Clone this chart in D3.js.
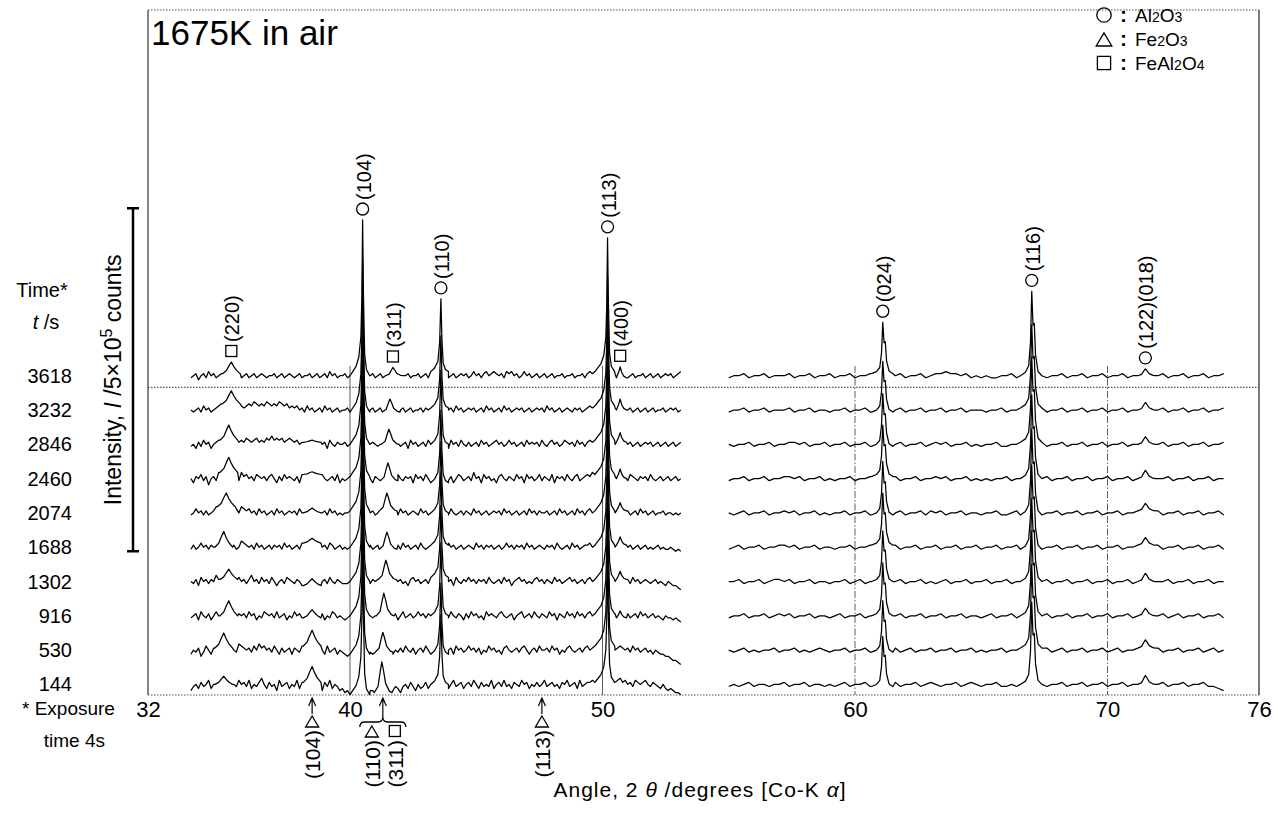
<!DOCTYPE html>
<meta charset="utf-8">
<style>
body { margin: 0; background: #fff; }
svg { font-family: "Liberation Sans", Arial, sans-serif; }
.trace { fill: none; stroke: #000; stroke-width: 1.25; stroke-linejoin: round; }
.sym { fill: none; stroke: #000; stroke-width: 1.3; }
.frame-dot { stroke: #555; stroke-width: 1.2; stroke-dasharray: 1.5,1.5; }
</style>
<body>
<script src="https://d3js.org/d3.v7.min.js"></script>
<script>

var width = 1278,
    height = 817;

// exposure time of each pattern (s), bottom pattern first
var times = [144, 530, 916, 1302, 1688, 2074, 2460, 2846, 3232, 3618];
var traceStep = 50;   // offset between stacked patterns (10^3 counts)
var bgUnit = 3;       // one background character = 3x10^3 counts

// background of each pattern, one base-36 char per step
// left part 33.7..53.1 deg (0.1 deg), right part 55.0..74.6 deg (0.2 deg)
var leftBg = [
  "79a8b9ac8a 9bac9b8a9c ab9c8a9bda 8b9a7c9ab8 a9c8b9a7b9 8a7b9c8a97 8675899a9b 8776878a98 79869a8b97 a89b8ac9ab 9b8ac9ab8a b9ca8b9a9c 8ab9c9a8ba 9cab8a9b9a c9ab9a8bac 9ab8c9abbc bcbcdcbabc dbcab9cbab ca9ba98a87 87665",
  "8a9b79ca8b 9cab8bca9d cbab9cadbc ab9ca8b9ab 8ba9c8ab9a 9ba8c9ab8a 9878a9b9ac a989a9ab9a 8a9b9ca9b8 ab9ca8b9ca 9bab8cab9a cab9b8a9ca b9a8bca9ab 9bca8ab9ca ab9cab8a9b ca9ab9bcab cbcbdcbcab cbab9cab9a b9a8a98877 65543",
  "9ab8ca9b8a cab9dbca9b ab9cab8a9c bab9c9ab8a 9cab9a8bca 9ab8a9cb9a 989a8a9bab 9a9ab8a9ba 9b8ac9ab9a cab9ba8b9c ab9ca9ba8b 9cab9a8cab a9bca9ab8a bc9ab9ca9b a9cab8ba9c ab9cab9bca bcdcbcbab9 cbab9ab9ca b9ab9a98a9 98987",
  "a9b8cab9ba dbcab9ab9c ab9bdab9ca b9ca8ab9cb a9ba8cab9a b9ab9ca9ba 999aa9ab9a a9bab9a9ab 9cab9a8bca b9ab9cab9a 9bab8ca9ba cab9bab9ca 9ab9cab8ab cab9a9bcab 9ba9cab9ab cab9ab9bca bcbdbcabab dcab9cab9a ba9ab9a98a 98876",
  "9b9acab9ba cbab9cab9a dcbab9cab9 ab9bab9cab 9ab9caba9b a9ab9cb9ab 9a9aab9ab9 ab9ab9aba9 bab9cab9ab 9ca9ab9bab a9cab9ab9a ba9cab9bab 9ab9acab9b ab9cab9aba 9bab9ca9ab 9cab9abbca bcbcbab9ab cbcab9ab9a b9a9ab9a99 a9898",
  "9acab9b9ab dcab9ab9ca dcbcab9cab 9ab9cab9ab ab9cab9aba 9bab9cab9a 9aab9ab9ab 9ab9aba9ab ab9cab9aba 9cab9ab9ab ab9ca9ab9b a9cab9ab9a bab9cab9ab 9ab9cab9ba ab9ab9cab9 ab9cab9bca bcbab9abab cbab9ab9ca b9ab9aab9a a9a9a",
  "a8bac9b7ab 9dcab8bca9 dbcab9cbab 9bca8b9cab a9b8cab9ba 8bca9ab9c8 a9ab8a9bab 9a8ba9ab9a b8ca9bab8c ab9ca8bab9 ca9b8acb9a b9dab8cab9 a8bca9ba9c ab8cab9ac9 ba9c8bab9c a9bc9abcbd cbcdbab8ba cab9cba9ba b9ca9ab9ab 9ab9a",
  "9a8b9cab8a bcdcab9cab cbdcbcdbcb dcecdcdbcd cbcab9bcab 9bab8ca9ba ab9ab9abab 9aba9ab9ab cab9ab8cab 9ab9cab9ab ab8cab9ca9 b9ab9cab9a bcab9acab9 ab9cabab9c a9bcab9acb ab9cab9bcb cbcbcab9ab cbcab9ab9a bab9ab9ab9 ab9ab",
  "a9ab9cab9a bcddcbcbab cbcdcedcdc edcdcedcdb cbcab9cab9 ab9cab9ab9 aab9ab9aab 9ab9ab9aba b9cab9ab9a ab9bab9cab a9ab9cab9a bab9ab9cab 9ab9cab9ab ab9ab9abab 9cab9ab9ab a9bab9abcb cbcbab9aba dcbab9ab9a b9ab9aab9a bab9a",
  "9ab8ab9cab 9abab9acab 9ab9ab9aba 9aab9ab9ab a9ab9aab9a b9ab9cab9a ab9aab9ab9 aab9ab9aba 9aab9ab9aa b9ab9cab9a ab9ab9abab 9acab9bcab cbab9cbcab 9acab9ab9a b9ab9aab9a ab9aab9bcb cbcbab9ab9 cab9ab9aab 9ab9ab9aba b9abc"
];
var rightBg = [
  "9a9ab9aa9a ab9aab9aa9 a9ab9aab9a a9ab9aab9a ba9aab9aba 9aab99a9ab aab9aab9aa b9aab9aab9 aab9aab9aa b9aab9987",
  "a9ab9a9aab 9aab9a9aba 9aab9aab9a 9aab9ab9aa b9aab9aab9 a9aab9aaba 9aab9ab9aa b9aab9ab9a ab9aab9aab 9aab9ab9a",
  "9aab9aab9a bab9aab9aa 9ab9aab9ab a9aab9aab9 aab9aab9aa 9ab9aab9ab 9aab9aab9a ab9aab9aab 9ab9aab9ab 9aab9aab9",
  "aab9aab9ab bab9aab9aa 9aab9ab9aa b9aab9aab9 a9ab9aab9a ab9aab9aab 9aab9aab9a ab9aab9aab 9aab9aab9a ab9aab9aa",
  "9ab9aab9aa bbab9aab9a a9aab9aab9 9aab9aab9a ab9aab9aab 9aab9aab9a ab9aab9aab 9aab9aab9a ab9aab9aab 9aab9aab9",
  "a9ab9aab9a abab9aab9a 9aab9aab9a a9aab9aab9 bab9aab9aa 9aab99ab9a ab9aab9aab 9aab9aab9a ab9aab9aab 9aab9aab9",
  "9aab9aab9a abbab9aab9 a9aab9aab9 9aab9aab9a abab9aab9a 9a9aab9aab 9aab9aab9a ab9aab9aab 9aab9aab9a ab9aab9aa",
  "a9aab9aab9 aabbab9aab 9aab9aab9a a9aab9aab9 abab9aab9a 9aab99aab9 aab9aab9aa b9aab9aab9 aab9aab9aa b9aab9aab",
  "9aab9aab9a aab9aab9aa 9aab9aab99 a9aab9aab9 aab9aab9aa a9aab9aab9 aab9aab9aa b9aab9aab9 aab9aab9aa b9aab9aab",
  "9aab9aab9a aab9aab9aa b9aab9aab9 a9aab9aab9 abbcbbab9a 9a99aab9ab aab9aab9aa b9aab9aab9 aab9aab9aa b9aab9aab"
];
var leftRange = [33.7, 53.1],
    rightRange = [55.0, 74.6];

// peak positions (deg) and heights (10^3 counts), bottom pattern first
var sp220Pos = [35.0, 35.0, 35.2, 35.2, 35.0, 35.1, 35.2, 35.2, 35.3, 35.3];
var sp220H   = [12, 22, 22, 15, 23, 20, 22, 22, 19, 17];
var fe104H   = [23, 23, 12, 10, 7, 7, 4, 3, 0, 0];
var al104H   = [220, 224, 228, 222, 226, 230, 224, 228, 222, 227];
var p311Pos  = [41.26, 41.3, 41.34, 41.42, 41.46, 41.46, 41.5, 41.54, 41.58, 41.7];
var p311H    = [45, 29, 33, 28, 25, 26, 26, 22, 19, 12];
var al110H   = [102, 104, 107, 105, 108, 104, 106, 108, 105, 106];
var al113H   = [188, 192, 196, 190, 194, 198, 192, 196, 190, 195];
var sp400H   = [0, 0, 10, 12, 12, 12, 14, 14, 16, 16];
var al024H   = [73, 75, 77, 74, 76, 78, 75, 77, 74, 75];
var al116H   = [120, 122, 124, 121, 123, 125, 122, 124, 121, 123];
var al122H   = [13, 12, 11, 12, 11, 11, 12, 11, 11, 10];

// peak profiles: [offset deg, fraction of height]
var bumpShape = [[-0.35, 0], [-0.2, 0.25], [-0.1, 0.65], [0, 1], [0.1, 0.6], [0.2, 0.3], [0.35, 0]];
var smallShape = [[-0.3, 0], [-0.15, 0.2], [-0.06, 0.7], [0, 1], [0.06, 0.75], [0.15, 0.3], [0.3, 0.05], [0.4, 0]];
var narrowShape = [[-0.15, 0], [-0.07, 0.45], [0, 1], [0.06, 0.5], [0.14, 0.15], [0.25, 0]];
var spikeShape = [[-0.4, 0], [-0.25, 0.05], [-0.12, 0.14], [-0.05, 0.4], [0, 1], [0.04, 0.45], [0.09, 0.12], [0.18, 0.03], [0.3, 0]];
var shoulderShape = [[-0.5, 0], [-0.38, 0.03], [-0.26, 0.06], [-0.15, 0.12], [-0.07, 0.25], [-0.03, 0.5], [0, 1], [0.03, 0.55], [0.08, 0.14], [0.15, 0.04], [0.28, 0]];
var doubletShape = [[-0.45, 0], [-0.25, 0.04], [-0.12, 0.12], [-0.05, 0.4], [0, 1], [0.05, 0.6], [0.1, 0.62], [0.15, 0.25], [0.25, 0.05], [0.4, 0]];

var peaks = [
  {pos: sp220Pos, h: sp220H, shape: bumpShape},
  {pos: 38.5, h: fe104H, shape: bumpShape},
  {pos: 40.5, h: al104H, shape: shoulderShape},
  {pos: p311Pos, h: p311H, shape: smallShape},
  {pos: 43.6, h: al110H, shape: spikeShape},
  {pos: 50.2, h: al113H, shape: shoulderShape},
  {pos: 50.7, h: sp400H, shape: narrowShape},
  {pos: 61.1, h: al024H, shape: doubletShape},
  {pos: 67.0, h: al116H, shape: doubletShape},
  {pos: 71.5, h: al122H, shape: smallShape}
];

// labels over the top pattern
var labelTexts = ["(220)", "(104)", "(311)", "(110)", "(113)", "(400)", "(024)", "(116)", "(122)(018)"];
var labelAngles = [35.3, 40.5, 41.7, 43.6, 50.2, 50.7, 61.1, 67.0, 71.5];
var labelSymbols = ["square", "circle", "square", "circle", "circle", "square", "circle", "circle", "circle"];

// Fe2O3 positions marked under the axis
var markTexts = ["(104)", "(113)"];
var markAngles = [38.5, 47.6];

var tickValues = [32, 40, 50, 60, 70, 76];
var refAngles = [40, 50, 60, 70];

var x = d3.scaleLinear().domain([32, 76]).range([148, 1259]);
var y = d3.scaleLinear().domain([0, 1000]).range([705, 19]);

function parseBg(str, range) {
  var s = str.replace(/ /g, "");
  var n = s.length;
  return Array.from(s, function(c, i) {
    return [range[0] + (range[1] - range[0]) * i / (n - 1), parseInt(c, 36) * bgUnit];
  });
}

function buildTrace(k, bg) {
  var lo = bg[0][0], hi = bg[bg.length - 1][0];
  var pts = bg.slice();
  peaks.forEach(function(p) {
    var pos = Array.isArray(p.pos) ? p.pos[k] : p.pos,
        h = p.h[k];
    if (!h || pos < lo || pos > hi) return;
    var a = pos + p.shape[0][0],
        b = pos + p.shape[p.shape.length - 1][0];
    var base = d3.least(bg, function(d) { return Math.abs(d[0] - a); })[1];
    pts = pts.filter(function(d) { return d[0] < a || d[0] > b; });
    p.shape.forEach(function(s) { pts.push([pos + s[0], base + s[1] * h]); });
  });
  pts.sort(function(a, b) { return a[0] - b[0]; });
  return pts;
}

var svg = d3.select("body").append("svg")
    .attr("width", width)
    .attr("height", height);

// frame
svg.append("line").attr("class", "frame-dot")
    .attr("x1", 148).attr("x2", 1259).attr("y1", 10).attr("y2", 10);
svg.append("line").attr("class", "frame-dot")
    .attr("x1", 148).attr("x2", 1259).attr("y1", 695).attr("y2", 695);
svg.append("line")
    .attr("x1", 148).attr("x2", 148).attr("y1", 10).attr("y2", 695)
    .attr("stroke", "#666").attr("stroke-width", 1.6);
svg.append("line")
    .attr("x1", 1259).attr("x2", 1259).attr("y1", 10).attr("y2", 695)
    .attr("stroke", "#222").attr("stroke-width", 1.2);

// dotted line under the last pattern
svg.append("line").attr("class", "frame-dot")
    .attr("x1", 148).attr("x2", 1259)
    .attr("y1", y(463)).attr("y2", y(463));

// reference lines
svg.append("g").selectAll("line")
  .data(refAngles)
  .enter().append("line")
    .attr("x1", function(d) { return x(d); })
    .attr("x2", function(d) { return x(d); })
    .attr("y1", 366).attr("y2", 695)
    .attr("stroke", "#333")
    .attr("stroke-width", 0.8)
    .attr("stroke-dasharray", function(d) { return d >= 60 ? "7,2,1.5,2" : null; });

// patterns
var line = d3.line()
    .x(function(d) { return x(d[0]); })
    .y(function(d) { return y(d[1]); });

var traces = times.map(function(t, k) {
  var off = k * traceStep;
  var shift = function(p) { return [p[0], p[1] + off]; };
  return {
    left: buildTrace(k, parseBg(leftBg[k], leftRange)).map(shift),
    right: buildTrace(k, parseBg(rightBg[k], rightRange)).map(shift)
  };
});

var tg = svg.append("g");
traces.forEach(function(tr) {
  tg.append("path").attr("class", "trace").attr("d", line(tr.left));
  tg.append("path").attr("class", "trace").attr("d", line(tr.right));
});

function drawSymbol(g, kind, cx, cy, s) {
  s = s || 1;
  if (kind === "circle") {
    g.append("circle").attr("class", "sym").attr("cx", cx).attr("cy", cy).attr("r", 6 * s);
  } else if (kind === "square") {
    g.append("rect").attr("class", "sym").attr("x", cx - 5.5 * s).attr("y", cy - 5.5 * s)
        .attr("width", 11 * s).attr("height", 11 * s);
  } else {
    g.append("path").attr("class", "sym")
        .attr("d", "M" + cx + "," + (cy - 6 * s) + "L" + (cx + 6.5 * s) + "," + (cy + 5 * s) +
                   "L" + (cx - 6.5 * s) + "," + (cy + 5 * s) + "Z");
  }
}

// peak labels above the top pattern
var topTrace = traces[traces.length - 1];
var topPts = topTrace.left.concat(topTrace.right);
var lg = svg.append("g").attr("font-size", 20);
labelTexts.forEach(function(txt, i) {
  var a = labelAngles[i];
  var apex = d3.max(topPts.filter(function(d) { return Math.abs(d[0] - a) < 0.12; }), function(d) { return d[1]; });
  var cx = x(a), cy = y(apex) - 11;
  drawSymbol(lg, labelSymbols[i], cx, cy);
  lg.append("text")
      .attr("transform", "translate(" + (cx + 1) + "," + (cy - 9) + ") rotate(-90)")
      .attr("dy", "0.35em")
      .text(txt);
});

// x axis
var axis = svg.append("g")
    .attr("transform", "translate(0,695)")
    .call(d3.axisBottom(x).tickValues(tickValues).tickSize(0).tickPadding(6).tickFormat(d3.format("d")));
axis.select(".domain").remove();
axis.selectAll("text")
    .attr("font-family", "Liberation Sans, Arial, sans-serif")
    .attr("font-size", 22)
    .attr("fill", "#000");

svg.append("text")
    .attr("x", 700).attr("y", 797)
    .attr("text-anchor", "middle")
    .attr("font-size", 21)
    .attr("letter-spacing", 1)
    .html("Angle, 2 <tspan font-style='italic'>θ</tspan> /degrees [Co-K <tspan font-style='italic'>α</tspan>]");

// Fe2O3 markers under the axis
var mg = svg.append("g").attr("font-size", 21);
function arrow(xp, y0) {
  mg.append("path")
      .attr("d", "M" + xp + "," + y0 + "V699M" + (xp - 3.5) + ",706L" + xp + ",698L" + (xp + 3.5) + ",706")
      .attr("fill", "none").attr("stroke", "#000").attr("stroke-width", 1.2);
}
markTexts.forEach(function(txt, i) {
  var xp = x(markAngles[i]);
  arrow(xp, 714);
  drawSymbol(mg, "triangle", xp, 722);
  mg.append("text")
      .attr("transform", "translate(" + (xp + 1) + ",730) rotate(-90)")
      .attr("text-anchor", "end")
      .attr("dy", "0.35em")
      .text(txt);
});
var bx = x(41.3);
arrow(bx, 717);
mg.append("path")
    .attr("d", "M" + (bx - 23) + ",727 q0,-5 5,-5 H" + (bx - 5) + " q5,0 5,-5 q0,5 5,5 H" + (bx + 18) + " q5,0 5,5")
    .attr("fill", "none").attr("stroke", "#000").attr("stroke-width", 1.3);
drawSymbol(mg, "triangle", bx - 11, 732);
drawSymbol(mg, "square", bx + 12, 731);
mg.append("text")
    .attr("transform", "translate(" + (bx - 10) + ",740) rotate(-90)")
    .attr("text-anchor", "end").attr("dy", "0.35em").text("(110)");
mg.append("text")
    .attr("transform", "translate(" + (bx + 13) + ",740) rotate(-90)")
    .attr("text-anchor", "end").attr("dy", "0.35em").text("(311)");

// time labels
var tl = svg.append("g").attr("font-size", 20).attr("text-anchor", "end");
times.forEach(function(t, k) {
  tl.append("text")
      .attr("x", 72)
      .attr("y", y(k * traceStep + 10 * bgUnit) + 7)
      .text(t);
});
svg.append("text").attr("x", 42).attr("y", 297).attr("text-anchor", "middle")
    .attr("font-size", 20).text("Time*");
svg.append("text").attr("x", 46).attr("y", 329).attr("text-anchor", "middle")
    .attr("font-size", 20)
    .html("<tspan font-style='italic'>t</tspan> /s");

svg.append("text").attr("x", 22).attr("y", 715).attr("font-size", 19).text("* Exposure");
svg.append("text").attr("x", 105).attr("y", 747).attr("text-anchor", "end")
    .attr("font-size", 19).text("time 4s");

// intensity scale bar
var barLo = y(224), barHi = y(724);
svg.append("path")
    .attr("d", "M127," + barHi + "H139M133," + barHi + "V" + barLo + "M127," + barLo + "H139")
    .attr("fill", "none").attr("stroke", "#000").attr("stroke-width", 2.5);
svg.append("text")
    .attr("transform", "translate(121," + ((barLo + barHi) / 2) + ") rotate(-90)")
    .attr("text-anchor", "middle")
    .attr("font-size", 23)
    .html("Intensity, <tspan font-style='italic'>I</tspan> /5×10<tspan dy='-9' font-size='16'>5</tspan><tspan dy='9'> counts</tspan>");

// title
svg.append("text").attr("x", 151).attr("y", 45).attr("font-size", 35).text("1675K in air");

// legend
var legSyms = ["circle", "triangle", "square"];
var legNames = [["Al", "2", "O", "3"], ["Fe", "2", "O", "3"], ["FeAl", "2", "O", "4"]];
var leg = svg.append("g").attr("font-size", 19);
legSyms.forEach(function(s, i) {
  var cy = 15 + i * 24;
  drawSymbol(leg, s, 1104, cy + (s === "triangle" ? 1 : 0), 1.2);
  leg.append("text").attr("x", 1120).attr("y", cy + 7).attr("font-weight", "bold")
      .attr("font-size", 21).text(":");
  var t = leg.append("text").attr("x", 1135).attr("y", cy + 7);
  legNames[i].forEach(function(part, j) {
    t.append("tspan").attr("font-size", j % 2 ? 14 : 19).text(part);
  });
});

</script>
